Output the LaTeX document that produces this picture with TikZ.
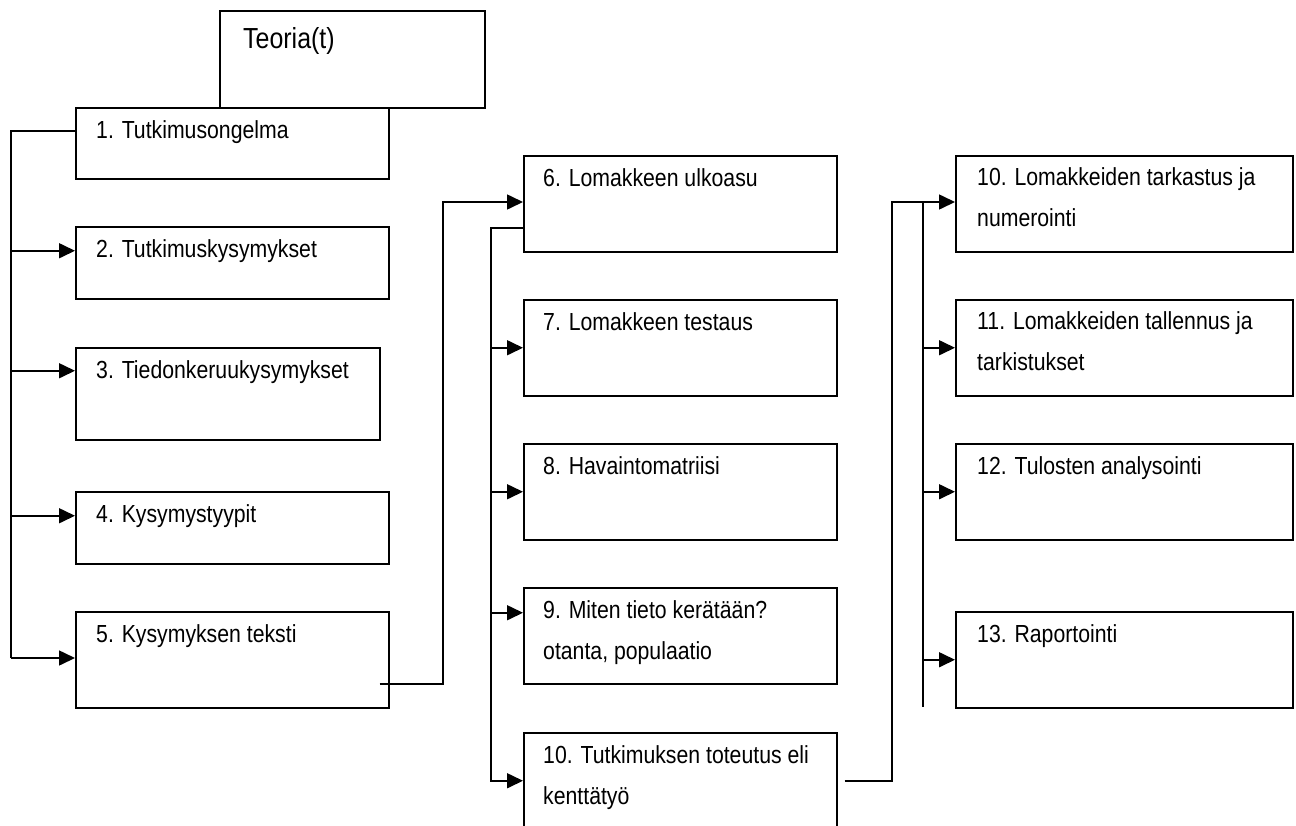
\documentclass[tikz,border=0pt]{standalone}
\usepackage{fontspec}
\setmainfont{Liberation Sans}[FakeStretch=0.86]
\usetikzlibrary{arrows.meta}
\tikzset{
  box/.style={draw, line width=1.5pt, anchor=north west, inner sep=0pt},
  txt/.style={anchor=base west, inner sep=0pt, align=left, font=\fontsize{24.7}{41}\selectfont},
  link/.style={line width=1.6pt},
  arr/.style={link, -{Triangle[length=16pt,width=15pt]}},
}
\begin{document}
\begin{tikzpicture}[x=1pt,y=-1pt]
    \useasboundingbox (0,0) rectangle (1296,825);
    % Column 1
    \node[box, minimum width=265pt, minimum height=97pt] (teoria) at (219,10) {};
    \node[box, minimum width=313pt, minimum height=71pt] (b1) at (75,107) {};
    \node[box, minimum width=313pt, minimum height=72pt] (b2) at (75,226) {};
    \node[box, minimum width=304pt, minimum height=92pt] (b3) at (75,347) {};
    \node[box, minimum width=313pt, minimum height=72pt] (b4) at (75,491) {};
    \node[box, minimum width=313pt, minimum height=96pt] (b5) at (75,611) {};
    \node[txt, font=\fontsize{29}{35}\selectfont] (teoriat) at ([xshift=24pt,yshift=-38pt]teoria.north west) {Teoria(t)};
    \node[txt] (b1t) at ([xshift=21pt,yshift=-31pt]b1.north west) {1. Tutkimusongelma};
    \node[txt] (b2t) at ([xshift=21pt,yshift=-31pt]b2.north west) {2. Tutkimuskysymykset};
    \node[txt] (b3t) at ([xshift=21pt,yshift=-31pt]b3.north west) {3. Tiedonkeruukysymykset};
    \node[txt] (b4t) at ([xshift=21pt,yshift=-31pt]b4.north west) {4. Kysymystyypit};
    \node[txt] (b5t) at ([xshift=21pt,yshift=-31pt]b5.north west) {5. Kysymyksen teksti};
    % Column 2
    \node[box, minimum width=313pt, minimum height=96pt] (b6) at (523,155) {};
    \node[box, minimum width=313pt, minimum height=96pt] (b7) at (523,299) {};
    \node[box, minimum width=313pt, minimum height=96pt] (b8) at (523,443) {};
    \node[box, minimum width=313pt, minimum height=96pt] (b9) at (523,587) {};
    \node[box, minimum width=313pt, minimum height=96pt] (b10) at (523,732) {};
    \node[txt] (b6t) at ([xshift=20pt,yshift=-31pt]b6.north west) {6. Lomakkeen ulkoasu};
    \node[txt] (b7t) at ([xshift=20pt,yshift=-31pt]b7.north west) {7. Lomakkeen testaus};
    \node[txt] (b8t) at ([xshift=20pt,yshift=-31pt]b8.north west) {8. Havaintomatriisi};
    \node[txt] (b9t) at ([xshift=20pt,yshift=-72pt]b9.north west) {9. Miten tieto kerätään?\\otanta, populaatio};
    \node[txt] (b10t) at ([xshift=20pt,yshift=-72pt]b10.north west) {10. Tutkimuksen toteutus eli\\kenttätyö};
    % Column 3
    \node[box, minimum width=337pt, minimum height=96pt] (r10) at (955,155) {};
    \node[box, minimum width=337pt, minimum height=96pt] (r11) at (955,299) {};
    \node[box, minimum width=337pt, minimum height=96pt] (r12) at (955,443) {};
    \node[box, minimum width=337pt, minimum height=96pt] (r13) at (955,611) {};
    \node[txt] (r10t) at ([xshift=22pt,yshift=-71pt]r10.north west) {10. Lomakkeiden tarkastus ja\\numerointi};
    \node[txt] (r11t) at ([xshift=22pt,yshift=-71pt]r11.north west) {11. Lomakkeiden tallennus ja\\tarkistukset};
    \node[txt] (r12t) at ([xshift=22pt,yshift=-31pt]r12.north west) {12. Tulosten analysointi};
    \node[txt] (r13t) at ([xshift=22pt,yshift=-31pt]r13.north west) {13. Raportointi};

    % Connectors
    \coordinate (k1) at (11,658);
    \coordinate (k2) at (443,202);
    \coordinate (k3) at (491,227);
    \coordinate (k4) at (892,202);
    \coordinate (k5) at (923,202);
    \coordinate (k6) at (923,707);
    \draw[link] ([yshift=12.5pt]b1.west) -| (k1);
    \draw[arr] (k1) -- (k1 -| b5.west);
    \foreach \n/\s in {b2/12, b3/23, b4/12} {
        \coordinate (in) at ([yshift=\s pt]\n.west);
        \draw[arr] (in -| k1) -- (in);
    }
    \draw[arr] ([xshift=-10pt,yshift=-24pt]b5.east) -| (k2) -- (k2 -| b6.west);
    \draw[arr] ([yshift=-24.5pt]b6.west) -| (b10.west -| k3) -- (b10.west);
    \foreach \n/\s in {b7/0, b8/0, b9/23} {
        \coordinate (in) at ([yshift=\s pt]\n.west);
        \draw[arr] (in -| k3) -- (in);
    }
    \draw[arr] ([xshift=7pt]b10.east) -| (k4) -- (k4 -| r10.west);
    \draw[link] (k5) -- (k6);
    \foreach \n in {r11, r12, r13} {
        \draw[arr] (\n.west -| k5) -- (\n.west);
    }
\end{tikzpicture}
\end{document}
